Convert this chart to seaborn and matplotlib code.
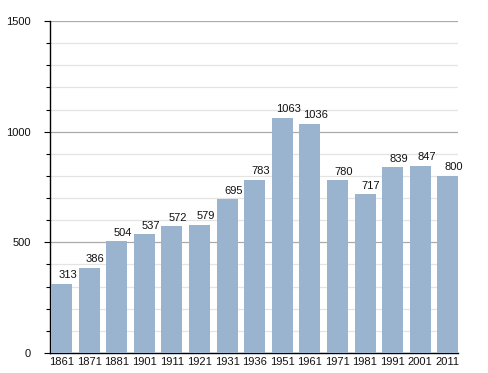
import matplotlib
matplotlib.use("Agg")
import matplotlib.pyplot as plt
from matplotlib.ticker import MultipleLocator
import seaborn as sns
import pandas as pd

# === DATA ===
years = ["1861", "1871", "1881", "1901", "1911", "1921", "1931",
         "1936", "1951", "1961", "1971", "1981", "1991", "2001", "2011"]
population = [313, 386, 504, 537, 572, 579, 695,
              783, 1063, 1036, 780, 717, 839, 847, 800]

df = pd.DataFrame({"year": years, "pop": population})

sns.set_style("white")
plt.rcParams["font.family"] = ["Liberation Sans", "DejaVu Sans"]

fig = plt.figure(figsize=(4.88, 3.73), dpi=100)
ax = fig.add_axes([0.1025, 0.0536, 0.836, 0.89])

sns.barplot(data=df, x="year", y="pop", color="#9ab3cf", saturation=1,
            width=0.76, linewidth=0, ax=ax, zorder=3)

# value labels, a bit right of centre like the original
for i, v in enumerate(population):
    ax.text(i + 0.22, v + 16, str(v), ha="center", va="bottom", fontsize=8,
            color="#111111", zorder=4)

ax.set_ylim(0, 1500)
ax.set_xlim(-0.42, len(years) - 0.63)
ax.yaxis.set_major_locator(MultipleLocator(500))
ax.yaxis.set_minor_locator(MultipleLocator(100))
ax.grid(axis="y", which="major", color="#aaaaaa", lw=0.9, zorder=0)
ax.grid(axis="y", which="minor", color="#e4e4e4", lw=0.9, zorder=0)
ax.set_axisbelow(True)

for s in ["top", "right"]:
    ax.spines[s].set_visible(False)
ax.spines["left"].set_color("black")
ax.spines["bottom"].set_color("black")
ax.spines["left"].set_linewidth(1)
ax.spines["bottom"].set_linewidth(1)

ax.tick_params(axis="y", which="major", length=4, width=0.8, color="black",
               labelsize=8, pad=10, left=True, labelcolor="#111111")
ax.tick_params(axis="y", which="minor", length=3, width=0.8, color="black", left=True)
ax.tick_params(axis="x", length=0, labelsize=8, pad=3, labelcolor="#111111")
ax.set_xlabel("")
ax.set_ylabel("")

fig.savefig("out.png", dpi=100)
